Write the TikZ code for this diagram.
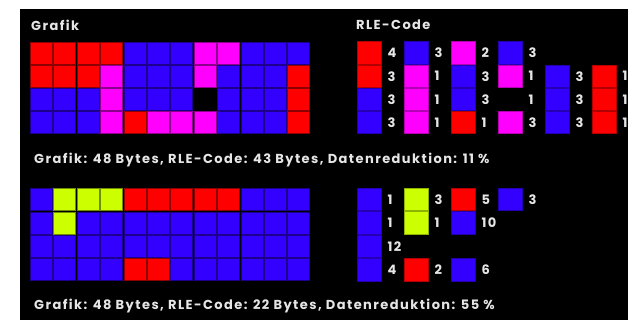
\documentclass[tikz,border=0pt]{standalone}
\usepackage{fontspec}
\setmainfont{Poppins}
\newfontfamily\pixfont{Poppins}[LetterSpace=11]
\usetikzlibrary{positioning}
\definecolor{pixR}{HTML}{FF0000}
\definecolor{pixB}{HTML}{3300FF}
\definecolor{pixM}{HTML}{FF00FF}
\definecolor{pixY}{HTML}{CCFF00}
\definecolor{pixK}{HTML}{000000}
\definecolor{txtgray}{HTML}{E6E6E6}
\tikzset{
  pix/.style={rectangle,inner sep=0pt,minimum width=22pt,minimum height=22pt,fill=#1,draw=#1!55!black,line width=0.5pt},
  runbox/.style={rectangle,inner sep=0pt,minimum width=24pt,minimum height=22.4pt,fill=#1,draw=#1!70!black,line width=0.6pt},
  cnt/.style={font=\pixfont\bfseries\fontsize{13}{13}\selectfont,text=txtgray,inner sep=0pt,anchor=west},
  hdr/.style={font=\pixfont\bfseries\fontsize{13}{13}\selectfont,text=txtgray,inner sep=0pt,anchor=west}
}

\begin{document}
\begin{tikzpicture}[x=1pt,y=-1pt]
  \useasboundingbox (0,0) rectangle (628,320);
  \fill[white] (0,0) rectangle (628,320);
  \fill[black] (20,9) rectangle (628,320);

  \node[hdr] (ttlA) at (31,25) {Grafik};
  \node[hdr] (ttlB) at (356,25) {RLE-Code};

  % first picture and its runs
  \foreach \row [count=\j] in {{R,R,R,R,B,B,B,M,M,B,B,B},{R,R,R,M,B,B,B,M,B,B,B,R},{B,B,B,M,B,B,B,K,B,B,B,R},{B,B,B,M,R,M,M,M,B,B,B,R}}
    \foreach \p [count=\i] in \row
      \node[pix=pix\p] (upA-\j-\i) at ({41.2+(\i-1)*23.4},{53+(\j-1)*23.2}) {};

  \foreach \row [count=\j] in {{R/4,B/3,M/2,B/3},{R/3,M/1,B/3,M/1,B/3,R/1},{B/3,M/1,B/3,K/1,B/3,R/1},{B/3,M/1,R/1,M/3,B/3,R/1}}
    \foreach \p/\n [count=\k] in \row {
      \node[runbox=pix\p] (upB-\j-\k) at ({369+(\k-1)*47},{53+(\j-1)*23.2}) {};
      \node[cnt,right=6pt of upB-\j-\k] (upN-\j-\k) {\n};
    }

  \node[hdr] (sumA) at (34,160) {Grafik: 48 Bytes, RLE-Code: 43 Bytes, Datenreduktion: 11~\%};

  % second picture and its runs
  \foreach \row [count=\j] in {{B,Y,Y,Y,R,R,R,R,R,B,B,B},{B,Y,B,B,B,B,B,B,B,B,B,B},{B,B,B,B,B,B,B,B,B,B,B,B},{B,B,B,B,R,R,B,B,B,B,B,B}}
    \foreach \p [count=\i] in \row
      \node[pix=pix\p] (loA-\j-\i) at ({41.2+(\i-1)*23.4},{199.6+(\j-1)*23.35}) {};

  \foreach \row [count=\j] in {{B/1,Y/3,R/5,B/3},{B/1,Y/1,B/10},{B/12},{B/4,R/2,B/6}}
    \foreach \p/\n [count=\k] in \row {
      \node[runbox=pix\p] (loB-\j-\k) at ({369+(\k-1)*47},{199.6+(\j-1)*23.35}) {};
      \node[cnt,right=6pt of loB-\j-\k] (loN-\j-\k) {\n};
    }

  \node[hdr] (sumB) at (34,306) {Grafik: 48 Bytes, RLE-Code: 22 Bytes, Datenreduktion: 55~\%};
\end{tikzpicture}
\end{document}
